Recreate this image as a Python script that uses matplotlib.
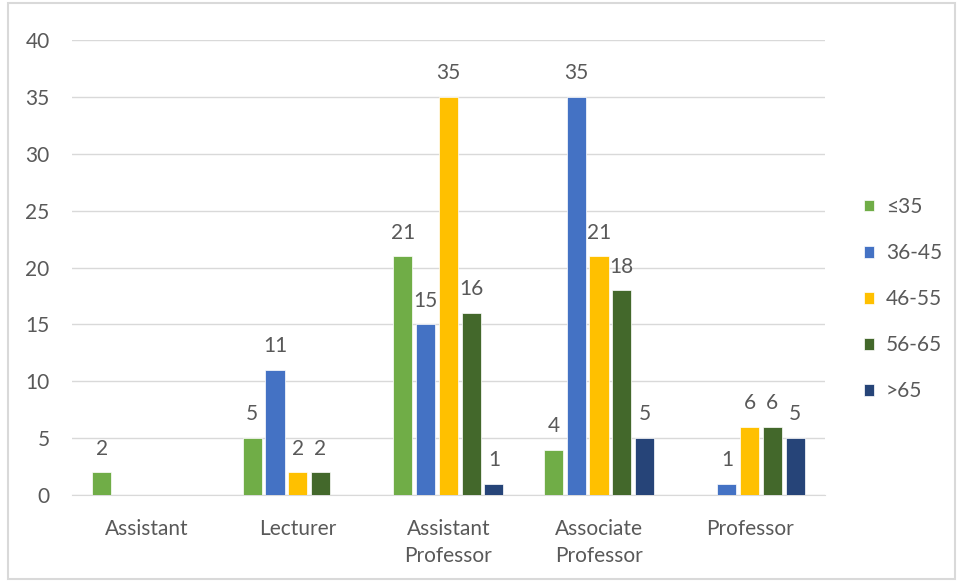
import matplotlib.pyplot as plt
import numpy as np
from matplotlib.patches import Rectangle

plt.rcParams['font.family'] = ['Lato', 'DejaVu Sans']

# data
categories = ['Assistant', 'Lecturer', 'Assistant\nProfessor', 'Associate\nProfessor', 'Professor']
groups = ['≤35', '36-45', '46-55', '56-65', '>65']
le35 = [2, 5, 21, 4, 0]
a36_45 = [0, 11, 15, 35, 1]
a46_55 = [0, 2, 35, 21, 6]
a56_65 = [0, 2, 16, 18, 6]
gt65 = [0, 0, 1, 5, 5]
series = [le35, a36_45, a46_55, a56_65, gt65]
colors = ['#70AD47', '#4472C4', '#FFC000', '#43682B', '#264478']

txt = '#595959'
fig = plt.figure(figsize=(9.57, 5.81), dpi=100)
fig.patches.append(Rectangle((0.008, 0.004), 0.99, 0.99, transform=fig.transFigure,
                             fill=False, edgecolor='#D9D9D9', linewidth=1.5))
ax = fig.add_axes([0.075, 0.148, 0.787, 0.783])

x = np.arange(len(categories))
step = 0.151
for i, (vals, c, g) in enumerate(zip(series, colors, groups)):
    pos = x + (i - 2) * step
    bars = ax.bar(pos, vals, width=0.127, color=c, edgecolor='white', linewidth=0.5, label=g, zorder=3)
    for b, v in zip(bars, vals):
        if v > 0:
            ax.text(b.get_x() + b.get_width() / 2, v + 1.2, str(v), ha='center', va='bottom',
                    fontsize=15, color=txt, zorder=4)

ax.set_ylim(0, 40)
ax.set_xlim(-0.5, 4.5)
ax.set_yticks(range(0, 41, 5))
ax.set_xticks(x)
ax.set_xticklabels(categories, fontsize=15, color=txt, linespacing=1.45)
ax.tick_params(axis='y', labelsize=15, colors=txt, length=0, pad=16)
ax.tick_params(axis='x', length=0, pad=17)
ax.grid(axis='y', color='#D9D9D9', linewidth=1, zorder=0)
for s in ['top', 'right', 'left']:
    ax.spines[s].set_visible(False)
ax.spines['bottom'].set_color('#D9D9D9')

leg = ax.legend(loc='center left', bbox_to_anchor=(1.03, 0.43), frameon=False, fontsize=15,
                labelcolor=txt, handlelength=0.45, handleheight=0.45, labelspacing=1.25,
                handletextpad=0.6, borderaxespad=0.4)

plt.savefig('out.png', dpi=100)
